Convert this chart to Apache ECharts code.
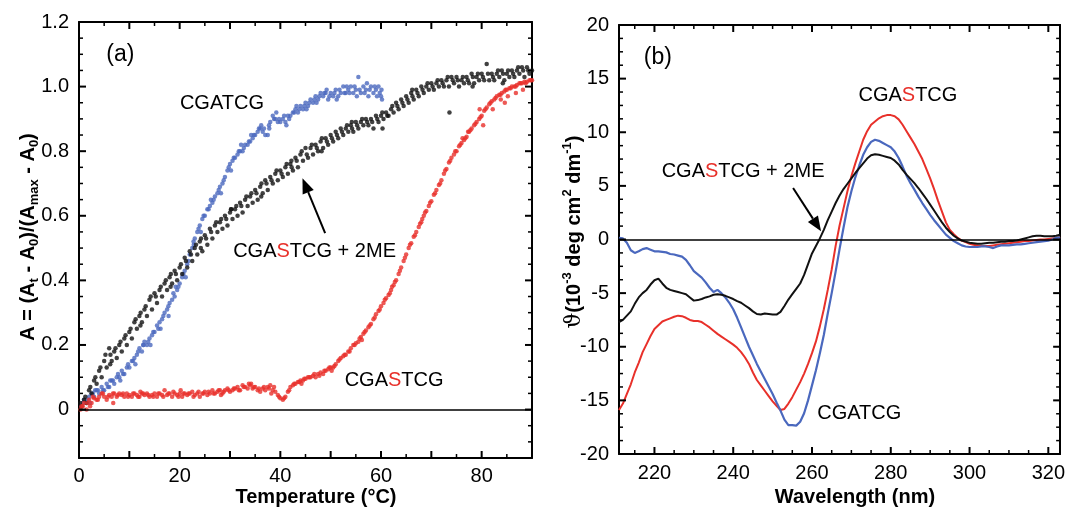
<!DOCTYPE html>
<html><head><meta charset="utf-8">
<script src="https://cdn.jsdelivr.net/npm/echarts@6/dist/echarts.min.js"></script>
<style>html,body{margin:0;padding:0;background:#fff}#c{width:1068px;height:510px}</style>
</head><body><div id="c"></div>
<script>
// ---------- Panel (a): melting curves, [temperature °C, A] ----------
const meltBlue = [
[0.5,.01],[1,.03],[1.5,.02],[2,.04],[2.5,.05],[3,.04],[3.5,.06],[4,.05],[4.5,.07],[5,.06],
[5.5,.08],[6,.07],[6.5,.09],[7,.08],[7.5,.10],[8,.10],[8.5,.12],[9,.11],[9.5,.13],[10,.13],
[10.5,.15],[11,.16],[11.5,.17],[12,.19],[12.5,.18],[13,.21],[13.5,.20],[14,.22],[14.5,.23],[15,.24],
[15.5,.26],[16,.27],[16.5,.28],[17,.30],[17.5,.31],[18,.33],[18.5,.34],[19,.35],[19.5,.37],[20,.39],
[20.5,.41],[21,.43],[21.5,.45],[22,.48],[22.5,.50],[23,.53],[23.5,.55],[24,.57],[24.5,.59],[25,.60],
[25.5,.62],[26,.63],[26.5,.64],[27,.66],[27.5,.67],[28,.69],[28.5,.70],[29,.72],[29.5,.74],[30,.76],
[30.5,.77],[31,.78],[31.5,.79],[32,.80],[32.5,.80],[33,.82],[33.5,.82],[34,.83],[34.5,.84],[35,.85],
[35.5,.86],[36,.87],[36.5,.86],[37,.85],[37.5,.85],[38,.89],[38.5,.91],[39,.90],[39.5,.89],[40,.89],
[40.5,.90],[41,.89],[41.5,.91],[42,.91],[42.5,.92],[43,.93],[43.5,.92],[44,.94],[44.5,.93],[45,.95],
[45.5,.94],[46,.96],[46.5,.95],[47,.97],[47.5,.96],[48,.98],[48.5,.97],[49,.98],[49.5,.96],[50,.98],
[50.5,.97],[51,.99],[51.5,.97],[52,.98],[52.5,1.00],[53,.98],[53.5,.99],[54,1.00],[54.5,.98],[55,.99],
[55.5,1.03],[56,.98],[56.5,1.00],[57,.99],[57.5,.97],[58,1.00],[58.5,.98],[59,.99],[59.5,1.00],[60,.97],[60.2,.96],
[2.2,.02],[3.2,.06],[6.2,.09],[8.2,.09],[11.2,.14],[12.8,.20],[14.2,.20],[16.2,.25],[17.8,.29],[19.2,.38],
[21.2,.41],[22.8,.51],[24.2,.55],[26.2,.65],[28.2,.67],[30.2,.74],[32.2,.82],[34.2,.85],[36.2,.88],[37.8,.87],
[39.2,.92],[41.2,.88],[43.2,.94],[45.2,.93],[47.2,.95],[49.2,.99],[51.2,.96],[53.2,1.0],[55.2,.97],[57.2,1.01],[59.2,.97],[60.1,.99]
];
const meltBlueExtra = [
[0.75,.02],[1.75,.03],[2.75,.05],[3.75,.06],[4.75,.06],[5.75,.07],[6.75,.09],[7.75,.11],[8.75,.11],[9.75,.14],
[10.75,.15],[11.75,.18],[12.75,.20],[13.75,.21],[14.75,.24],[15.75,.25],[16.75,.29],[17.75,.32],[18.75,.36],[19.75,.38],
[20.75,.42],[21.75,.46],[22.75,.52],[23.75,.56],[24.75,.60],[25.75,.62],[26.75,.65],[27.75,.68],[28.75,.71],[29.75,.75],
[30.75,.78],[31.75,.80],[32.75,.81],[33.75,.83],[34.75,.85],[35.75,.87],[36.75,.87],[37.75,.88],[38.75,.90],[39.75,.90],
[40.75,.91],[41.75,.90],[42.75,.92],[43.75,.93],[44.75,.94],[45.75,.95],[46.75,.96],[47.75,.97],[48.75,.98],[49.75,.97],
[50.75,.98],[51.75,.99],[52.75,.98],[53.75,.98],[54.75,1.00],[55.75,.99],[56.75,.98],[57.75,.99],[58.75,1.00],[59.75,.98]
];
const meltBlack = [
[0.5,.01],[1,.03],[1.5,.02],[2,.06],[2.5,.05],[3,.09],[3.5,.08],[4,.12],[4.5,.10],[5,.15],
[5.5,.13],[6,.19],[6.5,.15],[7,.18],[7.5,.16],[8,.20],[8.5,.18],[9,.22],[9.5,.20],[10,.24],
[10.5,.22],[11,.27],[11.5,.25],[12,.29],[12.5,.27],[13,.31],[13.5,.29],[14,.34],[14.5,.31],[15,.36],
[15.5,.33],[16,.37],[16.5,.35],[17,.39],[17.5,.37],[18,.41],[18.5,.39],[19,.43],[19.5,.40],[20,.44],
[20.5,.42],[21,.47],[21.5,.44],[22,.49],[22.5,.46],[23,.50],[23.5,.48],[24,.52],[24.5,.49],[25,.54],
[25.5,.51],[26,.56],[26.5,.53],[27,.57],[27.5,.55],[28,.58],[28.5,.56],[29,.60],[29.5,.57],[30,.61],
[30.5,.59],[31,.62],[31.5,.60],[32,.64],[32.5,.61],[33,.65],[33.5,.63],[34,.66],[34.5,.64],[35,.68],
[35.5,.65],[36,.69],[36.5,.67],[37,.71],[37.5,.68],[38,.72],[38.5,.70],[39,.73],[39.5,.71],[40,.74],
[40.5,.72],[41,.75],[41.5,.73],[42,.76],[42.5,.74],[43,.78],[43.5,.75],[44,.79],[44.5,.77],[45,.81],
[45.5,.78],[46,.81],[46.5,.79],[47,.82],[47.5,.80],[48,.83],[48.5,.81],[49,.84],[49.5,.82],[50,.85],
[50.5,.83],[51,.86],[51.5,.84],[52,.87],[52.5,.85],[53,.87],[53.5,.86],[54,.88],[54.5,.86],[55,.89],
[55.5,.87],[56,.89],[56.5,.88],[57,.90],[57.5,.88],[58,.90],[58.5,.87],[59,.91],[59.5,.89],[60,.91],
[60.5,.90],[61,.92],[61.5,.91],[62,.93],[62.5,.92],[63,.95],[63.5,.93],[64,.96],[64.5,.94],[65,.97],
[65.5,.95],[66,.98],[66.5,.96],[67,.99],[67.5,.97],[68,1.00],[68.5,.98],[69,1.00],[69.5,.99],[70,1.01],
[70.5,.99],[71,1.01],[71.5,1.00],[72,1.02],[72.5,1.00],[73,1.02],[73.5,1.00],[74,1.03],[74.5,1.01],[75,1.03],
[75.5,1.00],[76,1.02],[76.5,1.01],[77,1.03],[77.5,1.01],[78,1.04],[78.5,1.01],[79,1.03],[79.5,1.02],[80,1.04],
[80.5,1.02],[81,1.07],[81.5,1.02],[82,1.04],[82.5,1.02],[83,1.04],[83.5,1.03],[84,1.05],[84.5,1.02],[85,1.04],
[85.5,1.03],[86,1.05],[86.5,1.03],[87,1.05],[87.5,1.04],[88,1.06],[88.5,1.03],[89,1.06],[89.5,1.04],[90,1.05],
[60.3,.87],[73.6,.92],[6.2,.14],[12.2,.26],[18.2,.38],[24.2,.50],[30.2,.62],[36.2,.66],[42.2,.77],[48.2,.80],
[54.2,.89],[66.2,.99],[78.2,1.00],[84.2,1.01]
];
const meltBlackExtra = [
[0.25,.02],[1.25,.04],[2.25,.07],[3.25,.10],[4.25,.13],[5.25,.17],[6.25,.17],[7.25,.19],[8.25,.21],[9.25,.23],
[10.25,.25],[11.25,.28],[12.25,.30],[13.25,.32],[14.25,.35],[15.25,.35],[16.25,.38],[17.25,.40],[18.25,.42],[19.25,.42],
[20.25,.45],[21.25,.46],[22.25,.48],[23.25,.51],[24.25,.53],[25.25,.53],[26.25,.55],[27.25,.58],[28.25,.59],[29.25,.59],
[30.25,.62],[31.25,.63],[32.25,.63],[33.25,.66],[34.25,.67],[35.25,.67],[36.25,.70],[37.25,.70],[38.25,.71],[39.25,.74],
[40.25,.73],[41.25,.76],[42.25,.75],[43.25,.77],[44.25,.80],[45.25,.79],[46.25,.82],[47.25,.81],[48.25,.84],[49.25,.83],
[50.25,.84],[51.25,.85],[52.25,.86],[53.25,.88],[54.25,.87],[55.25,.88],[56.25,.90],[57.25,.89],[58.25,.89],[59.25,.90],
[60.25,.92],[61.25,.91],[62.25,.94],[63.25,.94],[64.25,.95],[65.25,.96],[66.25,.97],[67.25,.98],[68.25,.99],[69.25,1.01],
[70.25,1.00],[71.25,1.02],[72.25,1.01],[73.25,1.03],[74.25,1.02],[75.25,1.02],[76.25,1.03],[77.25,1.02],[78.25,1.03],[79.25,1.04],
[80.25,1.03],[81.25,1.04],[82.25,1.03],[83.25,1.05],[84.25,1.04],[85.25,1.05],[86.25,1.04],[87.25,1.06],[88.25,1.05],[89.25,1.05]
];
const meltRed = [
[0.3,0.0],[0.5,.01],[1,.02],[1.5,.00],[2,.03],[2.5,.02],[3,.035],[3.5,.03],[4,.04],[4.5,.05],
[5,.04],[5.5,.03],[6,.045],[6.5,.04],[7,.05],[7.5,.04],[8,.05],[8.5,.045],[9,.04],[9.5,.05],
[10,.045],[10.5,.04],[11,.05],[11.5,.045],[12,.04],[12.5,.05],[13,.045],[13.5,.05],[14,.04],[14.5,.045],
[15,.05],[15.5,.04],[16,.05],[16.5,.045],[17,.06],[17.5,.045],[18,.05],[18.5,.04],[19,.05],[19.5,.045],
[20,.05],[20.5,.04],[21,.05],[21.5,.045],[22,.05],[22.5,.055],[23,.045],[23.5,.05],[24,.04],[24.5,.05],
[25,.055],[25.5,.045],[26,.05],[26.5,.06],[27,.05],[27.5,.055],[28,.06],[28.5,.05],[29,.06],[29.5,.065],
[30,.055],[30.5,.06],[31,.065],[31.5,.07],[32,.06],[32.5,.075],[33,.07],[33.5,.065],[34,.075],[34.5,.065],
[35,.07],[35.5,.06],[36,.055],[36.5,.065],[37,.06],[37.5,.07],[38,.075],[38.5,.06],[39,.055],[39.5,.045],
[40,.035],[40.5,.03],[41,.04],[41.5,.055],[42,.07],[42.5,.075],[43,.08],[43.5,.085],[44,.09],[44.5,.09],
[45,.095],[45.5,.10],[46,.10],[46.5,.105],[47,.10],[47.5,.11],[48,.115],[48.5,.11],[49,.12],[49.5,.125],
[50,.13],[50.5,.13],[51,.14],[51.5,.15],[52,.16],[52.5,.165],[53,.17],[53.5,.18],[54,.19],[54.5,.20],
[55,.205],[55.5,.21],[56,.225],[56.5,.235],[57,.245],[57.5,.255],[58,.265],[58.5,.28],[59,.295],[59.5,.305],
[60,.32],[60.5,.33],[61,.345],[61.5,.355],[62,.37],[62.5,.385],[63,.40],[63.5,.42],[64,.44],[64.5,.46],
[65,.48],[65.5,.50],[66,.515],[66.5,.535],[67,.55],[67.5,.565],[68,.58],[68.5,.60],[69,.615],[69.5,.63],
[70,.645],[70.5,.665],[71,.68],[71.5,.695],[72,.71],[72.5,.73],[73,.745],[73.5,.765],[74,.78],[74.5,.79],
[75,.80],[75.5,.815],[76,.825],[76.5,.835],[77,.845],[77.5,.86],[78,.87],[78.5,.88],[79,.89],[79.5,.90],
[80,.91],[80.5,.925],[81,.935],[81.5,.945],[82,.955],[82.5,.96],[83,.97],[83.5,.975],[84,.98],[84.5,.985],
[85,.99],[85.5,.995],[86,1.0],[86.5,1.0],[87,1.005],[87.5,1.01],[88,1.01],[88.5,1.015],[89,1.015],[89.5,1.02],[90,1.02],
[2.2,.01],[6.8,.02],[12.2,.055],[20.2,.06],[28.2,.045],[34.2,.08],[38.2,.05],[44.2,.08],[50.2,.12],[56.2,.215],
[62.2,.38],[68.2,.59],[76.2,.84],[77.3,.86],[79.6,.93],[80.3,.88],[82.2,.93],[83.8,.96],[84.6,.95],[85.2,.97],[86.8,.98],[88.2,.99]
];
const meltRedExtra = [
[0.75,.01],[1.75,.02],[2.75,.04],[3.75,.03],[4.75,.05],[5.75,.04],[6.75,.05],[7.75,.045],[8.75,.05],[9.75,.04],
[10.75,.05],[11.75,.04],[12.75,.05],[13.75,.045],[14.75,.04],[15.75,.05],[16.75,.04],[17.75,.05],[18.75,.055],[19.75,.04],
[20.75,.05],[21.75,.05],[22.75,.04],[23.75,.055],[24.75,.05],[25.75,.055],[26.75,.05],[27.75,.06],[28.75,.055],[29.75,.06],
[30.75,.065],[31.75,.06],[32.75,.07],[33.75,.08],[34.75,.07],[35.75,.065],[36.75,.07],[37.75,.065],[38.75,.07],[39.75,.04],
[40.75,.035],[41.75,.06],[42.75,.08],[43.75,.085],[44.75,.095],[45.75,.10],[46.75,.11],[47.75,.105],[48.75,.12],[49.75,.13],
[50.75,.135],[51.75,.155],[52.75,.17],[53.75,.18],[54.75,.20],[55.75,.22],[56.75,.24],[57.75,.26],[58.75,.285],[59.75,.31],
[60.75,.34],[61.75,.36],[62.75,.395],[63.75,.43],[64.75,.47],[65.75,.51],[66.75,.54],[67.75,.575],[68.75,.61],[69.75,.64],
[70.75,.67],[71.75,.70],[72.75,.74],[73.75,.77],[74.75,.80],[75.75,.82],[76.75,.84],[77.75,.865],[78.75,.885],[79.75,.905],
[80.75,.93],[81.75,.95],[82.75,.965],[83.75,.975],[84.75,.99],[85.75,.995],[86.75,1.0],[87.75,1.01],[88.75,1.01],[89.75,1.02]
];

// ---------- Panel (b): CD spectra ----------
const cdWavelength = [
211,212,213,214,215,216,217,218,219,
220,221,222,223,224,225,226,227,228,229,
230,231,232,233,234,235,236,237,238,239,
240,241,242,243,244,245,246,247,248,249,
250,251,252,253,254,255,256,257,258,259,
260,261,262,263,264,265,266,267,268,269,
270,271,272,273,274,275,276,277,278,279,
280,281,282,283,284,285,286,287,288,289,
290,291,292,293,294,295,296,297,298,299,
300,301,302,303,304,305,306,307,308,309,
310,311,312,313,314,315,316,317,318,319,
320,321,322,323];
const cdRed = [
-15.9,-15.3,-14.4,-13.5,-12.4,-11.5,-10.5,-9.75,-9.0,
-8.35,-8.0,-7.65,-7.5,-7.35,-7.2,-7.1,-7.15,-7.3,-7.5,
-7.6,-7.6,-7.7,-7.95,-8.2,-8.5,-8.8,-9.05,-9.3,-9.55,
-9.8,-10.1,-10.5,-11.0,-11.6,-12.4,-13.1,-13.6,-14.1,-14.6,
-15.1,-15.5,-15.9,-15.8,-15.3,-14.7,-14.0,-13.3,-12.5,-11.6,
-10.6,-9.5,-8.1,-6.5,-4.7,-2.8,-0.6,1.3,2.9,4.5,
5.9,7.1,8.2,9.3,10.1,10.7,11.0,11.3,11.5,11.6,
11.6,11.5,11.2,10.7,10.1,9.5,8.9,8.2,7.5,6.6,
5.7,4.7,3.6,2.6,1.6,0.9,0.5,0.15,-0.1,-0.25,
-0.4,-0.5,-0.55,-0.6,-0.6,-0.6,-0.55,-0.5,-0.45,-0.4,
-0.35,-0.3,-0.25,-0.2,-0.15,-0.15,-0.1,-0.05,0.0,0.0,
0.05,0.1,0.15,0.2];
const cdBlue = [
0.15,0.1,-0.3,-1.0,-1.25,-1.1,-0.9,-0.8,-0.95,
-1.1,-1.1,-1.15,-1.2,-1.35,-1.4,-1.5,-1.6,-1.9,-2.4,
-2.95,-3.25,-3.55,-4.0,-4.5,-4.9,-4.7,-5.0,-5.4,-5.9,
-6.5,-7.3,-8.2,-9.1,-10.0,-10.8,-11.6,-12.3,-13.0,-13.7,
-14.4,-15.2,-15.95,-16.8,-17.3,-17.3,-17.35,-17.0,-16.2,-15.0,
-13.6,-12.2,-10.6,-8.9,-6.9,-5.0,-3.0,-0.9,1.1,3.0,
4.5,5.8,6.9,7.9,8.6,9.1,9.3,9.2,9.0,8.8,
8.6,8.2,7.6,6.8,5.95,5.25,4.65,4.0,3.4,2.85,
2.3,1.8,1.35,0.9,0.45,0.15,-0.15,-0.35,-0.55,-0.65,
-0.7,-0.7,-0.7,-0.65,-0.65,-0.7,-0.8,-0.65,-0.55,-0.55,
-0.55,-0.5,-0.45,-0.45,-0.4,-0.35,-0.3,-0.25,-0.2,-0.15,
-0.1,0.0,0.15,0.2];
const cdBlack = [
-7.7,-7.5,-7.1,-6.7,-6.0,-5.4,-5.0,-4.7,-4.2,
-3.8,-3.65,-4.1,-4.5,-4.7,-4.8,-4.9,-5.0,-5.1,-5.4,
-5.7,-5.65,-5.55,-5.4,-5.3,-5.15,-5.1,-5.15,-5.25,-5.4,
-5.55,-5.75,-5.9,-6.15,-6.4,-6.7,-6.95,-7.0,-6.9,-6.95,
-7.0,-7.0,-6.75,-6.2,-5.6,-5.1,-4.6,-4.1,-3.3,-2.3,
-1.3,-0.6,0.1,0.9,1.8,2.6,3.4,4.1,4.7,5.2,
5.7,6.2,6.65,7.1,7.55,7.85,7.95,7.9,7.8,7.7,
7.6,7.35,7.0,6.5,6.05,5.65,5.25,4.8,4.3,3.8,
3.25,2.7,2.15,1.6,1.1,0.7,0.35,0.1,-0.1,-0.2,
-0.3,-0.35,-0.4,-0.4,-0.35,-0.3,-0.3,-0.25,-0.2,-0.2,
-0.15,-0.15,-0.1,0.0,0.1,0.2,0.3,0.35,0.35,0.3,
0.3,0.3,0.35,0.45];

const tempTickLabels = [0, 20, 40, 60, 80];
const waveTickLabels = [220, 240, 260, 280, 300, 320];
const absTickLabels = [0, 0.2, 0.4, 0.6, 0.8, 1.0, 1.2];
const tempRange = [0, 90], absRange = [-0.15, 1.2], waveRange = [211, 323], cdRange = [-20, 20];

const RED = '#e8302a', BLUE = '#4a68be', BLACK = '#111111';
const FONT = '"Liberation Sans", Arial, Helvetica, sans-serif';

const chart = echarts.init(document.getElementById('c'));

const lineS = {color: '#000', width: 2};
const labelBase = {color: '#000', fontSize: 20, fontFamily: FONT};
const near = (a, b) => Math.abs(a - b) < 1e-6;

function axisCommon(o) {
  return Object.assign({
    type: 'value', splitLine: {show: false},
    axisLine: {show: true, onZero: false, lineStyle: lineS},
    axisTick: {show: false},
    axisLabel: {show: false}
  }, o);
}

const xAxes = [
  axisCommon({gridIndex: 0, position: 'bottom', min: tempRange[0], max: tempRange[1], interval: 10,
    axisLabel: Object.assign({show: true, margin: 8, showMinLabel: true, showMaxLabel: true,
      formatter: v => tempTickLabels.some(t => near(t, v)) ? String(v) : ''}, labelBase)}),
  axisCommon({gridIndex: 0, position: 'top', min: tempRange[0], max: tempRange[1], interval: 10}),
  axisCommon({gridIndex: 1, position: 'bottom', min: waveRange[0], max: waveRange[1], minInterval: 20, maxInterval: 20,
    axisLabel: Object.assign({show: true, margin: 9, showMinLabel: true, showMaxLabel: true,
      formatter: v => waveTickLabels.some(t => near(t, v)) ? String(v) : ''}, labelBase)}),
  axisCommon({gridIndex: 1, position: 'top', min: waveRange[0], max: waveRange[1], minInterval: 20, maxInterval: 20})
];
const yAxes = [
  axisCommon({gridIndex: 0, position: 'left', min: absRange[0], max: absRange[1], minInterval: 0.2, maxInterval: 0.2,
    axisLabel: Object.assign({show: true, margin: 10, showMinLabel: true, showMaxLabel: true,
      formatter: v => {
        const t = absTickLabels.find(t => near(t, v));
        if (t === undefined) return '';
        return t === 0 ? '0' : t.toFixed(1);
      }}, labelBase)}),
  axisCommon({gridIndex: 0, position: 'right', min: absRange[0], max: absRange[1], minInterval: 0.2, maxInterval: 0.2}),
  axisCommon({gridIndex: 1, position: 'left', min: cdRange[0], max: cdRange[1], interval: 5,
    axisLabel: Object.assign({show: true, margin: 10, showMinLabel: true, showMaxLabel: true}, labelBase)}),
  axisCommon({gridIndex: 1, position: 'right', min: cdRange[0], max: cdRange[1], interval: 5})
];

const zeroLine = {silent: true, symbol: 'none', label: {show: false}, animation: false,
  lineStyle: {color: '#000', width: 1.5, type: 'solid'}, data: [{yAxis: 0}]};

const cd = vals => cdWavelength.map((w, i) => [w, vals[i]]);

chart.setOption({
  animation: false,
  backgroundColor: '#fff',
  grid: [
    {left: 79, top: 22, width: 453, height: 436},
    {left: 619, top: 25, width: 443, height: 429}
  ],
  xAxis: xAxes,
  yAxis: yAxes,
  series: [
    {type: 'scatter', name: 'CGATCG', xAxisIndex: 0, yAxisIndex: 0, data: meltBlue.concat(meltBlueExtra), symbolSize: 4.5,
      itemStyle: {color: BLUE}, silent: true, markLine: zeroLine},
    {type: 'scatter', name: 'CGASTCG + 2ME', xAxisIndex: 0, yAxisIndex: 0, data: meltBlack.concat(meltBlackExtra), symbolSize: 4.5,
      itemStyle: {color: BLACK}, silent: true},
    {type: 'scatter', name: 'CGASTCG', xAxisIndex: 0, yAxisIndex: 0, data: meltRed.concat(meltRedExtra), symbolSize: 4.5,
      itemStyle: {color: RED}, silent: true},
    {type: 'line', name: 'CGASTCG', xAxisIndex: 2, yAxisIndex: 2, data: cd(cdRed), showSymbol: false,
      lineStyle: {color: RED, width: 2}, itemStyle: {color: RED}, silent: true, markLine: zeroLine},
    {type: 'line', name: 'CGATCG', xAxisIndex: 2, yAxisIndex: 2, data: cd(cdBlue), showSymbol: false,
      lineStyle: {color: BLUE, width: 2.2}, itemStyle: {color: BLUE}, silent: true},
    {type: 'line', name: 'CGASTCG + 2ME', xAxisIndex: 2, yAxisIndex: 2, data: cd(cdBlack), showSymbol: false,
      lineStyle: {color: BLACK, width: 2}, itemStyle: {color: BLACK}, silent: true}
  ]
});

const pA = v => chart.convertToPixel({seriesIndex: 0}, v);
const pB = v => chart.convertToPixel({seriesIndex: 3}, v);

// ---------- inward tick marks on all four sides, placed through the series' coordinate system ----------
function range(a, b, step) { const out = []; for (let i = 0; a + i * step <= b + 1e-9; i++) out.push(+(a + i * step).toFixed(6)); return out; }
const notIn = (vals, majors) => vals.filter(v => !majors.some(m => near(m, v)));
function ticks(conv, xr, yr, xMajor, xMinor, yMajor, yMinor) {
  const els = [];
  const seg = (a, b, w) => els.push({type: 'line', silent: true, z: 50,
    shape: {x1: a[0], y1: a[1], x2: b[0], y2: b[1]}, style: {stroke: '#000', lineWidth: w}});
  const xt = (vals, len, w) => vals.forEach(v => {
    const b = conv([v, yr[0]]), t = conv([v, yr[1]]);
    seg(b, [b[0], b[1] - len], w); seg(t, [t[0], t[1] + len], w);
  });
  const yt = (vals, len, w) => vals.forEach(v => {
    const l = conv([xr[0], v]), r = conv([xr[1], v]);
    seg(l, [l[0] + len, l[1]], w); seg(r, [r[0] - len, r[1]], w);
  });
  xt(xMajor, 7, 2); xt(xMinor, 4, 1.5); yt(yMajor, 7, 2); yt(yMinor, 4, 1.5);
  return els;
}
const tA_xMaj = range(10, 80, 10), tA_xMin = notIn(range(5, 85, 5), tA_xMaj);
const tA_yMaj = range(0, 1.0, 0.2), tA_yMin = notIn(range(-0.1, 1.15, 0.05), tA_yMaj);
const tB_xMaj = range(220, 320, 20), tB_xMin = notIn(range(215, 320, 5), tB_xMaj);
const tB_yMaj = range(-15, 15, 5), tB_yMin = notIn(range(-18.75, 18.75, 1.25), tB_yMaj);

// ---------- annotations (positioned in data coordinates) ----------
const richSeq = {
  k: {fill: '#000', fontSize: 20, fontFamily: FONT},
  r: {fill: RED, fontSize: 20, fontFamily: FONT}
};
function txt(pt, text, size, rich) {
  return {type: 'text', x: pt[0], y: pt[1], silent: true, z: 100,
    style: {text: text, rich: rich, fill: '#000', font: size + 'px ' + FONT,
      align: 'center', verticalAlign: 'middle', textAlign: 'center', textVerticalAlign: 'middle'}};
}
function arrow(from, to) {
  const dx = to[0] - from[0], dy = to[1] - from[1];
  const len = Math.hypot(dx, dy), ux = dx / len, uy = dy / len;
  const L = 15, W = 12;
  const bx = to[0] - ux * L, by = to[1] - uy * L;
  const px = -uy, py = ux;
  return [
    {type: 'line', silent: true, z: 100, shape: {x1: from[0], y1: from[1], x2: bx, y2: by},
      style: {stroke: '#000', lineWidth: 2}},
    {type: 'polygon', silent: true, z: 100,
      shape: {points: [[to[0], to[1]], [bx + px * W / 2, by + py * W / 2], [bx - px * W / 2, by - py * W / 2]]},
      style: {fill: '#000'}}
  ];
}

const leftTitleRich = {
  n: {fontSize: 20, fontWeight: 'bold', fontFamily: FONT, lineHeight: 26, fill: '#000'},
  s: {fontSize: 13, fontWeight: 'bold', fontFamily: FONT, lineHeight: 14, verticalAlign: 'bottom', fill: '#000'}
};
const rightTitleRich = {
  th: {fontSize: 22, fontFamily: '"DejaVu Serif", serif', lineHeight: 26, fill: '#000'},
  n: {fontSize: 20, fontWeight: 'bold', fontFamily: FONT, lineHeight: 26, fill: '#000'},
  p: {fontSize: 13, fontWeight: 'bold', fontFamily: FONT, lineHeight: 14, verticalAlign: 'top', fill: '#000'}
};
const center = {align: 'center', verticalAlign: 'middle', textAlign: 'center', textVerticalAlign: 'middle'};

const graphics = [
  ...ticks(pA, tempRange, absRange, tA_xMaj, tA_xMin, tA_yMaj, tA_yMin),
  ...ticks(pB, waveRange, cdRange, tB_xMaj, tB_xMin, tB_yMaj, tB_yMin),
  txt(pA([8.2, 1.10]), '(a)', 23),
  txt(pA([28.4, 0.948]), 'CGATCG', 20),
  txt(pA([46.8, 0.49]), '{k|CGA}{r|S}{k|TCG + 2ME}', 20, richSeq),
  txt(pA([62.6, 0.09]), '{k|CGA}{r|S}{k|TCG}', 20, richSeq),
  ...arrow(pA([48.9, 0.546]), pA([44.4, 0.716])),
  txt(pB([220.85, 17.0]), '(b)', 23),
  txt(pB([242.5, 6.35]), '{k|CGA}{r|S}{k|TCG + 2ME}', 20, richSeq),
  txt(pB([284.35, 13.47]), '{k|CGA}{r|S}{k|TCG}', 20, richSeq),
  txt(pB([272, -16.25]), 'CGATCG', 20),
  ...arrow(pB([255.2, 4.8]), pB([262.3, 0.77])),
  {type: 'text', x: 316, y: 497, silent: true,
    style: Object.assign({text: 'Temperature (°C)', fill: '#000', font: 'bold 20px ' + FONT}, center)},
  {type: 'text', x: 855, y: 497, silent: true,
    style: Object.assign({text: 'Wavelength (nm)', fill: '#000', font: 'bold 20px ' + FONT}, center)},
  {type: 'text', x: 28, y: 237, rotation: Math.PI / 2, silent: true,
    style: Object.assign({text: '{n|A = (A}{s|t}{n| - A}{s|0}{n|)/(A}{s|max}{n| - A}{s|0}{n|)}', rich: leftTitleRich}, center)},
  {type: 'text', x: 574, y: 232, rotation: Math.PI / 2, silent: true,
    style: Object.assign({text: '{th|ϑ}{n|(10}{p|-3}{n| deg cm}{p|2}{n| dm}{p|-1}{n|)}', rich: rightTitleRich}, center)}
];
chart.setOption({graphic: graphics});
</script>
</body></html>
